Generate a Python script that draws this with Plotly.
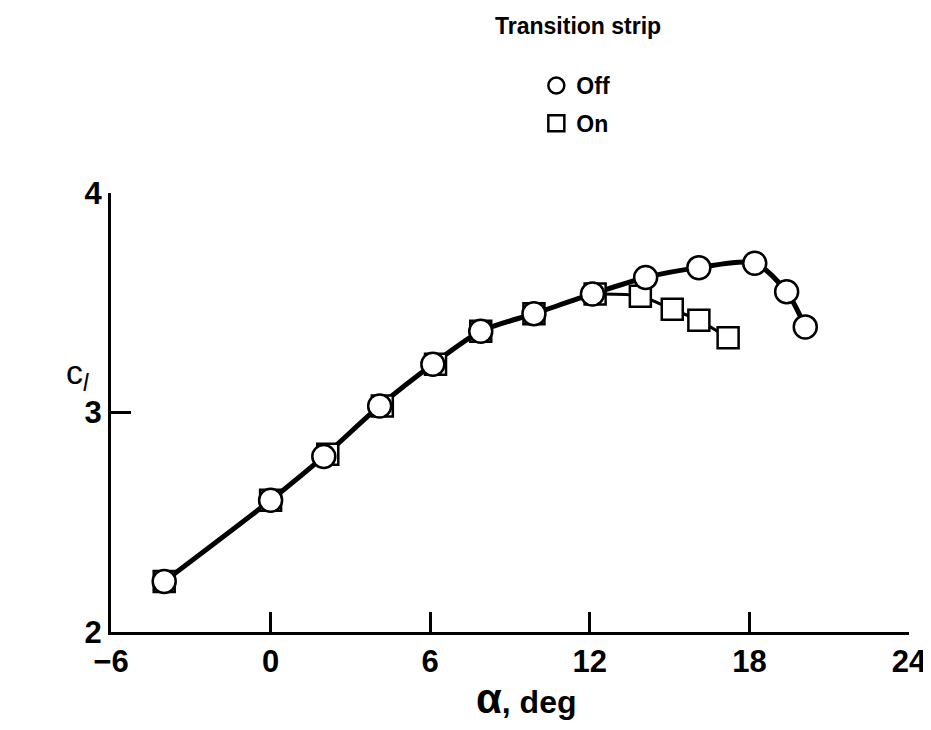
import plotly.graph_objects as go

# Transition strip off (circles)
off_alpha = [-4.0, 0.0, 2.0, 4.1, 6.1, 7.9, 9.9, 12.1, 14.1, 16.1, 18.2, 19.4, 20.1]
off_cl = [2.23, 2.60, 2.80, 3.03, 3.22, 3.37, 3.45, 3.54, 3.615, 3.66, 3.68, 3.55, 3.39]

# Transition strip on (squares)
on_alpha = [-4.0, 0.0, 2.15, 4.2, 6.2, 7.9, 9.9, 12.2, 13.9, 15.1, 16.1, 17.2]
on_cl = [2.23, 2.60, 2.81, 3.03, 3.22, 3.37, 3.45, 3.54, 3.53, 3.47, 3.42, 3.34]

x_ticks = [-6, 0, 6, 12, 18, 24]
y_ticks = [2, 3, 4]

FONT = "Liberation Sans, Arial, sans-serif"

fig = go.Figure()

# faired curve through "Off" data
fig.add_trace(go.Scatter(
    x=off_alpha, y=off_cl, mode="lines",
    line=dict(color="black", width=5, shape="spline", smoothing=0.8),
    showlegend=False, hoverinfo="skip"))

# faired curve for "On" beyond separation
on_tail = [i for i, a in enumerate(on_alpha) if a >= 12]
fig.add_trace(go.Scatter(
    x=[on_alpha[i] for i in on_tail], y=[on_cl[i] for i in on_tail], mode="lines",
    line=dict(color="black", width=3, shape="spline", smoothing=0.8),
    showlegend=False, hoverinfo="skip"))

fig.add_trace(go.Scatter(
    x=on_alpha, y=on_cl, mode="markers", name="On", legendgroup="on", legendrank=2,
    marker=dict(symbol="square", size=21, color="white",
                line=dict(color="black", width=2.5))))

fig.add_trace(go.Scatter(
    x=off_alpha, y=off_cl, mode="markers", name="Off", legendgroup="off", legendrank=1,
    marker=dict(symbol="circle", size=23, color="white",
                line=dict(color="black", width=2.5))))

# page body has an 8px margin; plot area placed at absolute x 111..909, y 193..632
fig.update_layout(
    width=920, height=722,
    margin=dict(l=103, r=19, t=185, b=98),
    plot_bgcolor="white", paper_bgcolor="white",
    font=dict(family=FONT, color="black"),
    legend=dict(
        x=0.533, y=(632 - 64) / 439, xanchor="left", yanchor="top",
        traceorder="grouped", tracegroupgap=5,
        font=dict(size=23, family=FONT, weight="bold"),
        bgcolor="rgba(0,0,0,0)", itemwidth=30),
    annotations=[
        dict(text="<b>Transition strip</b>", xref="paper", yref="paper",
             x=(578 - 111) / 798, y=(632 - 26) / 439, xanchor="center", yanchor="middle",
             showarrow=False, font=dict(size=23, family=FONT)),
        dict(text="<b><span style='font-size:42px'>α</span>, deg</b>", xref="paper", yref="paper",
             x=(526 - 111) / 798, y=(632 - 698) / 439, xanchor="center", yanchor="middle",
             showarrow=False, font=dict(size=32, family=FONT)),
        dict(text="c<sub><i>l</i></sub>", xref="paper", yref="paper",
             x=(77 - 111) / 798, y=(632 - 374) / 439, xanchor="center", yanchor="middle",
             showarrow=False, font=dict(size=34, family=FONT)),
    ],
    xaxis=dict(
        range=[-6, 24], tickvals=x_ticks, ticktext=[str(t).replace("-", "−") for t in x_ticks],
        showgrid=False, zeroline=False, showline=True, linecolor="black", linewidth=3,
        ticks="inside", ticklen=20, tickwidth=2.5, tickcolor="black", automargin=False,
        tickfont=dict(size=31, family=FONT, weight="bold"),
    ),
    yaxis=dict(
        range=[2, 4], tickvals=y_ticks,
        showgrid=False, zeroline=False, showline=True, linecolor="black", linewidth=3,
        ticks="inside", ticklen=20, tickwidth=2.5, tickcolor="black", automargin=False,
        tickfont=dict(size=31, family=FONT, weight="bold"),
    ),
)

fig.write_html("out.html")
